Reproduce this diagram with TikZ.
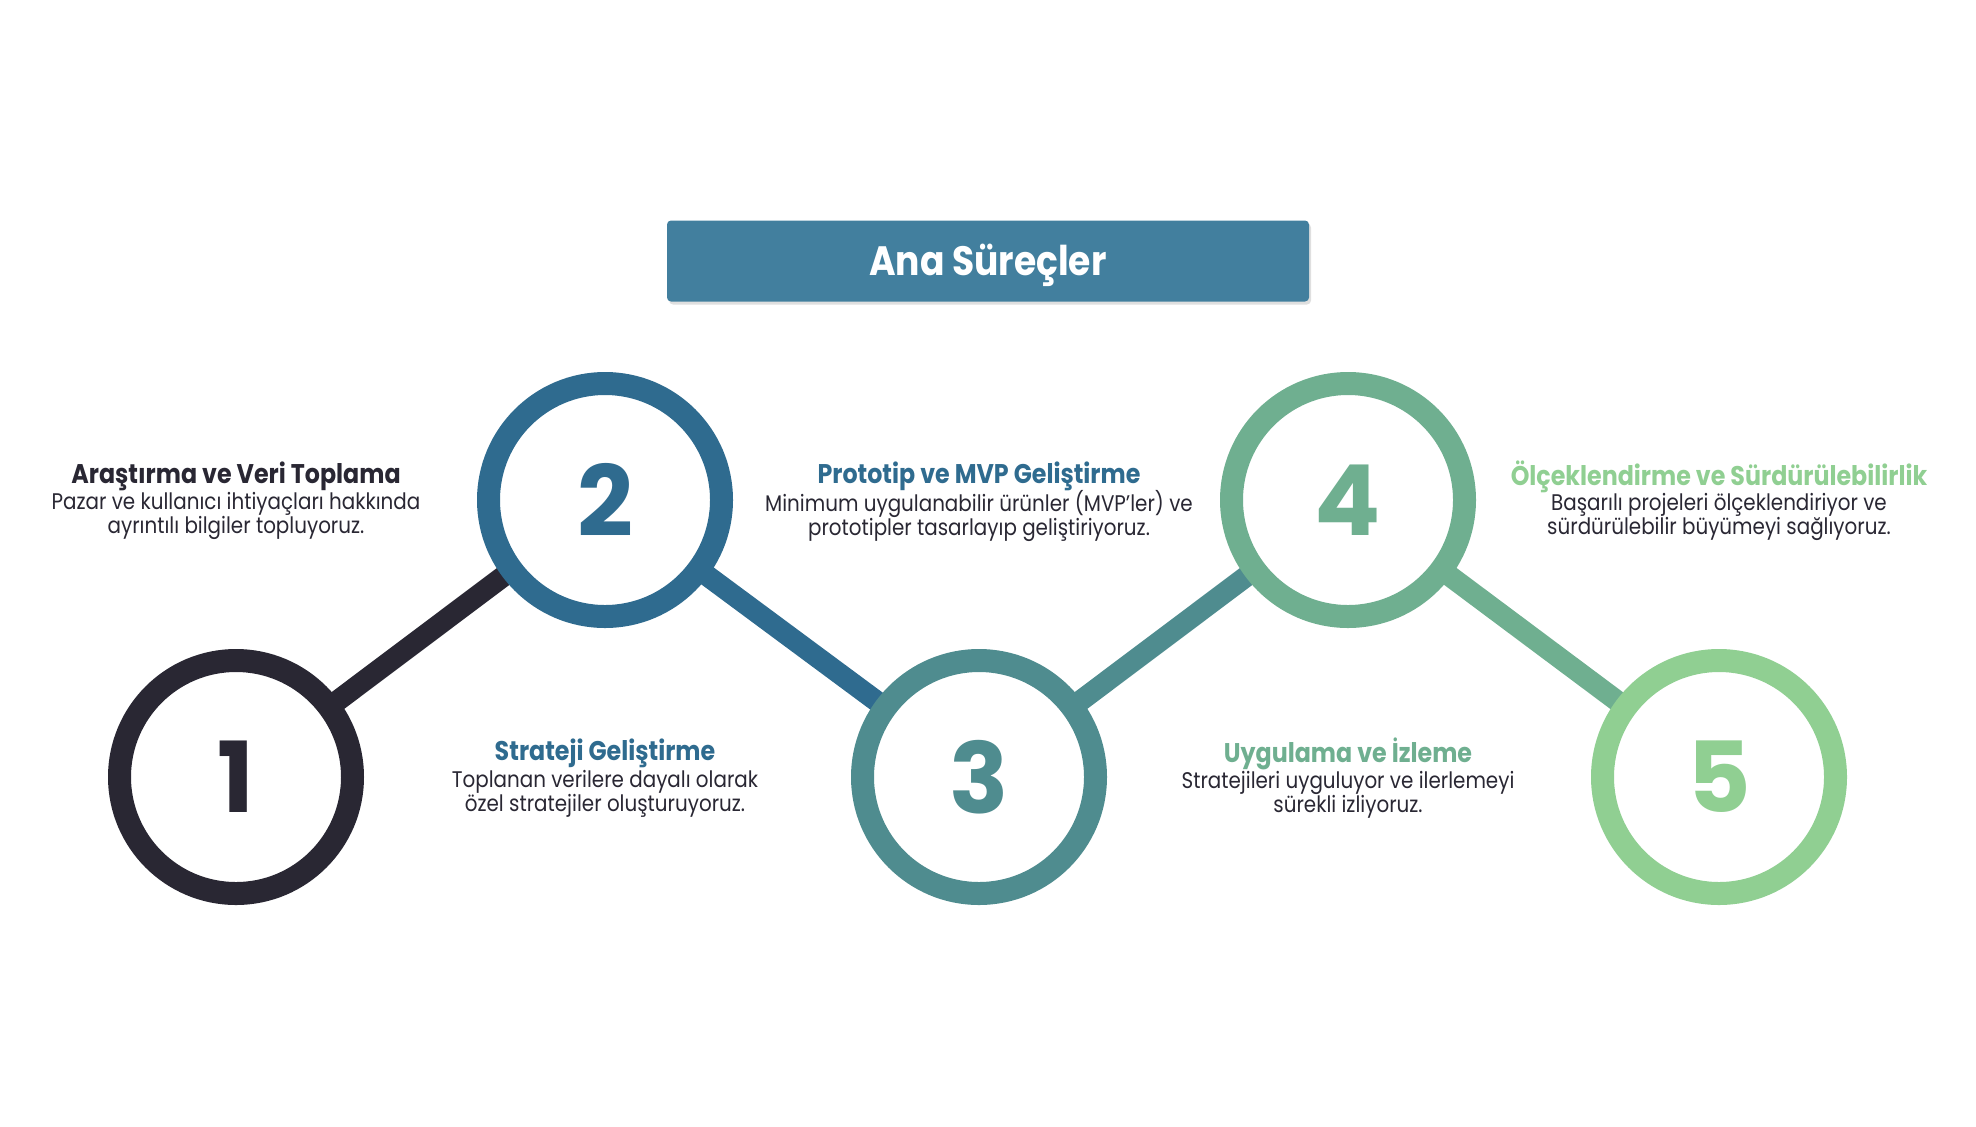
\documentclass[tikz,border=0pt]{standalone}
\usepackage{fontspec}
\setmainfont{Poppins}[FakeStretch=0.88]
\newfontfamily\numfont{Poppins}
\usetikzlibrary{positioning}
\usetikzlibrary{shadows}
\usetikzlibrary{backgrounds}
\definecolor{cdark}{HTML}{292733}
\definecolor{cblue}{HTML}{2F6B8F}
\definecolor{cteal}{HTML}{4F8C8F}
\definecolor{cgreen}{HTML}{6FAF90}
\definecolor{clight}{HTML}{90CF92}
\definecolor{ctitle}{HTML}{427F9E}
\tikzset{ring/.style = {circle, draw=#1, text=#1, fill=white, line width=11.5pt, minimum size=116.5pt, inner sep=0, font=\numfont\fontsize{49}{49}\selectfont\bfseries}}
\tikzset{link/.style = {draw=#1, line width=10.5pt}}
\tikzset{head/.style = {text=#1, font=\fontsize{13.5}{15}\selectfont\bfseries, inner sep=0}}
\tikzset{desc/.style = {text=cdark, align=center, font=\fontsize{11.3}{12}\selectfont, inner sep=0}}
\tikzset{titlebox/.style = {fill=ctitle, text=white, rounded corners=2pt, minimum width=321pt, minimum height=40.5pt, text depth=0.12em, font=\fontsize{20.5}{22}\selectfont\bfseries, drop shadow={shadow xshift=1pt, shadow yshift=-1.5pt, opacity=0.25}}}

\begin{document}
\begin{tikzpicture}[x=0.5pt, y=-0.5pt]
    \useasboundingbox (0, 0) rectangle (1976, 1126);
    \node [titlebox] (title) at (988, 261) {Ana Süreçler};

    \node [ring=cdark] (c1) at (236, 777) {1};
    \node [ring=cblue] (c2) at (605, 500) {2};
    \node [ring=cteal] (c3) at (979, 777) {3};
    \node [ring=cgreen] (c4) at (1348, 500) {4};
    \node [ring=clight] (c5) at (1719, 777) {5};

    \begin{pgfonlayer}{background}
      \draw [link=cdark] (c1.center) -- (c2.center);
      \draw [link=cblue] (c2.center) -- (c3.center);
      \draw [link=cteal] (c3.center) -- (c4.center);
      \draw [link=cgreen] (c4.center) -- (c5.center);
    \end{pgfonlayer}

    \node [head=cdark] (h1) at (236, 476) {Araştırma ve Veri Toplama};
    \node [desc] (d1) at (236, 516) {Pazar ve kullanıcı ihtiyaçları hakkında\\ayrıntılı bilgiler topluyoruz.};
    \node [head=cblue] (h2) at (605, 753) {Strateji Geliştirme};
    \node [desc] (d2) at (605, 794) {Toplanan verilere dayalı olarak\\özel stratejiler oluşturuyoruz.};
    \node [head=cblue] (h3) at (979, 476) {Prototip ve MVP Geliştirme};
    \node [desc] (d3) at (979, 516) {Minimum uygulanabilir ürünler (MVP'ler) ve\\prototipler tasarlayıp geliştiriyoruz.};
    \node [head=cgreen] (h4) at (1348, 754) {Uygulama ve İzleme};
    \node [desc] (d4) at (1348, 795) {Stratejileri uyguluyor ve ilerlemeyi\\sürekli izliyoruz.};
    \node [head=clight] (h5) at (1719, 477) {Ölçeklendirme ve Sürdürülebilirlik};
    \node [desc] (d5) at (1719, 517) {Başarılı projeleri ölçeklendiriyor ve\\sürdürülebilir büyümeyi sağlıyoruz.};
  \end{tikzpicture}
\end{document}
